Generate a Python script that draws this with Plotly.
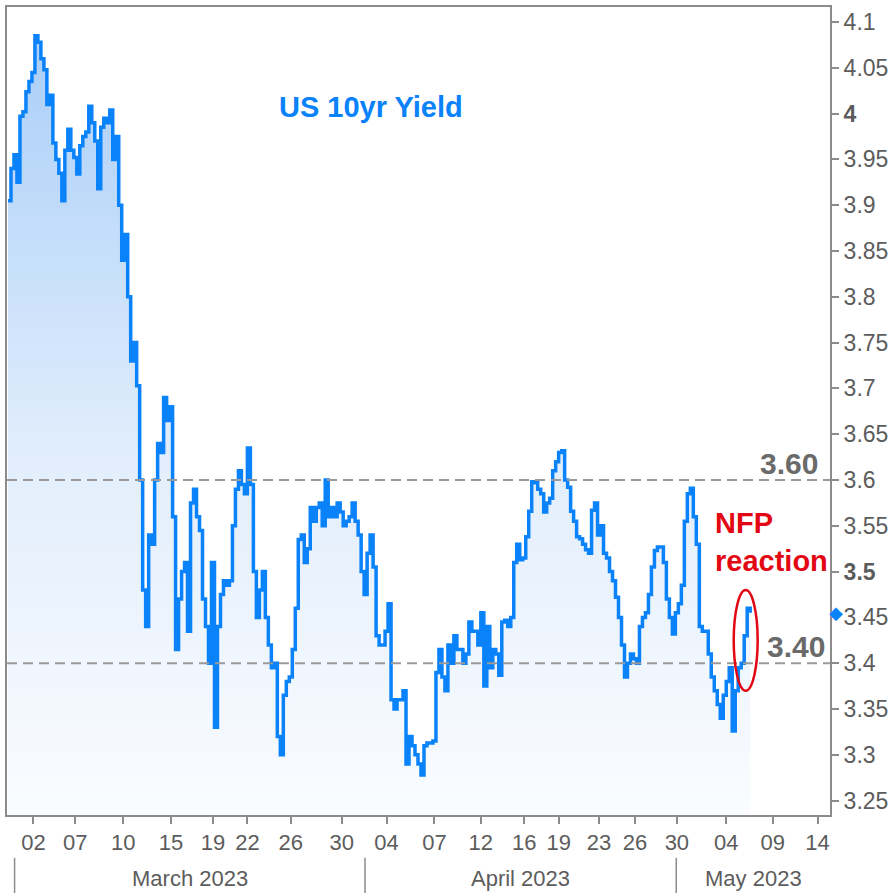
import plotly.graph_objects as go

# US 10yr yield, sampled along the session axis (one sample per step)
yield_values = [
    3.905, 3.94, 3.955, 3.925, 3.997, 4.002, 4.024, 4.035, 4.045, 4.085,
    4.078, 4.06, 4.048, 4.01, 4.02, 3.968, 3.95, 3.935, 3.905, 3.96,
    3.983, 3.96, 3.952, 3.934, 3.965, 3.975, 3.98, 4.008, 3.99, 3.97,
    3.918, 3.985, 3.995, 3.99, 4.004, 3.95, 3.975, 3.9, 3.84, 3.868,
    3.8, 3.73, 3.75, 3.703, 3.6, 3.48, 3.44, 3.54, 3.53, 3.60,
    3.64, 3.63, 3.69, 3.665, 3.68, 3.56, 3.415, 3.47, 3.50, 3.51,
    3.435, 3.575, 3.59, 3.56, 3.545, 3.47, 3.44, 3.40, 3.51, 3.33,
    3.44, 3.475, 3.49, 3.485, 3.49, 3.55, 3.59, 3.61, 3.595, 3.585,
    3.635, 3.595, 3.5, 3.45, 3.48, 3.50, 3.45, 3.42, 3.395, 3.40,
    3.32, 3.30, 3.365, 3.38, 3.385, 3.415, 3.46, 3.535, 3.54, 3.51,
    3.525, 3.57, 3.555, 3.57, 3.575, 3.55, 3.60, 3.56, 3.57, 3.56,
    3.575, 3.565, 3.55, 3.555, 3.56, 3.575, 3.555, 3.54, 3.50, 3.475,
    3.52, 3.54, 3.505, 3.43, 3.42, 3.42, 3.435, 3.465, 3.36, 3.35,
    3.36, 3.36, 3.37, 3.29, 3.32, 3.31, 3.30, 3.29, 3.278, 3.31,
    3.313, 3.313, 3.315, 3.39, 3.415, 3.385, 3.37, 3.42, 3.40, 3.43,
    3.415, 3.415, 3.40, 3.41, 3.445, 3.435, 3.435, 3.42, 3.455, 3.375,
    3.44, 3.395, 3.415, 3.41, 3.387, 3.445, 3.447, 3.44, 3.45, 3.51,
    3.53, 3.513, 3.515, 3.538, 3.566, 3.598, 3.597, 3.59, 3.585, 3.565,
    3.575, 3.58, 3.61, 3.62, 3.63, 3.632, 3.60, 3.592, 3.566, 3.555,
    3.538, 3.536, 3.53, 3.524, 3.52, 3.567, 3.575, 3.54, 3.55, 3.52,
    3.515, 3.5, 3.49, 3.472, 3.45, 3.42, 3.385, 3.40, 3.41, 3.405,
    3.40, 3.44, 3.45, 3.455, 3.475, 3.505, 3.523, 3.527, 3.527, 3.51,
    3.47, 3.45, 3.432, 3.455, 3.465, 3.485, 3.555, 3.585, 3.591, 3.56,
    3.53, 3.44, 3.435, 3.435, 3.41, 3.385, 3.37, 3.355, 3.34, 3.365,
    3.38, 3.395, 3.326, 3.37, 3.395, 3.40, 3.43, 3.46, 3.455,
]
sample_index = list(range(len(yield_values)))

# Date tick labels and their positions on the session axis
tick_positions = [8.5, 22.5, 38.5, 54.5, 68.5, 80, 94.5, 111.5, 126.5, 142.5,
                  158, 172.5, 184, 197.5, 209.5, 223.5, 240, 255.5, 270.5]
tick_labels = ["02", "07", "10", "15", "19", "22", "26", "30", "04", "07",
               "12", "16", "19", "23", "26", "30", "04", "09", "14"]

# Month row: boundaries on the session axis and labels
month_bounds = [2.2, 119.3, 223.3, 274.67]
month_labels = ["March 2023", "April 2023", "May 2023"]

# Y axis ticks
y_ticks = [3.25, 3.3, 3.35, 3.4, 3.45, 3.5, 3.55, 3.6, 3.65, 3.7, 3.75,
           3.8, 3.85, 3.9, 3.95, 4.0, 4.05, 4.1]
y_tick_text = ["3.25", "3.3", "3.35", "3.4", "3.45", "<b>3.5</b>", "3.55", "3.6",
               "3.65", "3.7", "3.75", "3.8", "3.85", "3.9", "3.95", "<b>4</b>",
               "4.05", "4.1"]

levels = [3.60, 3.40]
level_labels = ["3.60", "3.40"]

X_RANGE = [-0.33, 274.67]
Y_RANGE = [3.2343, 4.1164]

LINE_BLUE = "#0a82fa"
GRAY = "#5c5c5c"
FONT = "Liberation Sans, Arial, sans-serif"

fig = go.Figure()

fig.add_trace(go.Scatter(
    x=sample_index, y=yield_values, mode="lines",
    line=dict(color=LINE_BLUE, width=3.5, shape="hv"),
    fill="tozeroy",
    fillgradient=dict(type="vertical", start=Y_RANGE[0], stop=4.09,
                      colorscale=[[0, "#fafcff"], [0.45, "#e2eefc"], [1, "#a9cef8"]]),
    hoverinfo="skip", showlegend=False,
))

# last value marker on the axis
fig.add_annotation(xref="x domain", yref="y", x=1, y=yield_values[-1], text="◆",
                   showarrow=False, xanchor="center", yanchor="middle", xshift=6,
                   font=dict(family="DejaVu Sans", size=18, color=LINE_BLUE))

# Level lines
for lv in levels:
    fig.add_shape(type="line", xref="x domain", yref="y", x0=0, x1=1, y0=lv, y1=lv,
                  line=dict(color="#9a9a9a", width=2, dash="10px,6px"), layer="above")

fig.add_annotation(xref="x domain", yref="y", x=0.988, y=levels[0], text="<b>" + level_labels[0] + "</b>",
                   showarrow=False, xanchor="right", yanchor="bottom", yshift=-2,
                   font=dict(family=FONT, size=30, color="#6a6a6a"))
fig.add_annotation(xref="x domain", yref="y", x=0.996, y=levels[1], text="<b>" + level_labels[1] + "</b>",
                   showarrow=False, xanchor="right", yanchor="bottom", yshift=-2,
                   font=dict(family=FONT, size=30, color="#6a6a6a"))

# Title text
fig.add_annotation(xref="paper", yref="paper", x=0.442, y=0.876, text="<b>US 10yr Yield</b>",
                   showarrow=False, xanchor="center", yanchor="middle",
                   font=dict(family=FONT, size=29, color=LINE_BLUE))

# NFP reaction text + ellipse
fig.add_annotation(xref="x domain", yref="paper", x=0.858, y=0.338, text="<b>NFP<br>reaction</b>",
                   showarrow=False, xanchor="left", yanchor="middle", align="left",
                   font=dict(family=FONT, size=29, color="#e30613"))
last_i = sample_index[-1]
tail = yield_values[-4:]
fig.add_shape(type="circle", xref="x", yref="y",
              x0=last_i - 5.5, x1=last_i + 2.5,
              y0=min(tail) - 0.03, y1=max(tail) + 0.02,
              line=dict(color="#e30613", width=2.5))

# Month row
for i, lab in enumerate(month_labels):
    fig.add_annotation(xref="x", yref="paper", x=(month_bounds[i] + month_bounds[i + 1]) / 2,
                       y=-0.078, text=lab, showarrow=False, xanchor="center", yanchor="middle",
                       font=dict(family=FONT, size=22, color=GRAY))
for b in month_bounds[:3]:
    fig.add_shape(type="line", xref="x", yref="paper", x0=b, x1=b, y0=-0.053, y1=-0.097,
                  line=dict(color="#8c8c8c", width=1.5))

fig.update_xaxes(
    range=X_RANGE, tickmode="array", tickvals=tick_positions, ticktext=tick_labels,
    ticks="outside", ticklen=7, tickcolor="#8c8c8c", tickwidth=1.5,
    showgrid=False, zeroline=False, showline=True, mirror=True,
    linecolor="#8c8c8c", linewidth=2,
    tickfont=dict(family=FONT, size=22, color=GRAY),
)
fig.update_yaxes(
    range=Y_RANGE, side="right", tickmode="array", tickvals=y_ticks, ticktext=y_tick_text,
    ticks="outside", ticklen=7, tickcolor="#8c8c8c", tickwidth=1.5,
    showgrid=False, zeroline=False, showline=True, mirror=True,
    linecolor="#8c8c8c", linewidth=2,
    tickfont=dict(family=FONT, size=23, color=GRAY),
)

fig.update_layout(
    width=893, height=893,
    margin=dict(l=5, r=63, t=7, b=78),
    paper_bgcolor="white", plot_bgcolor="white",
    showlegend=False,
)

fig.write_html("out.html", config={"displayModeBar": False},
               post_script="document.body.style.margin='0';document.body.style.overflow='hidden';")
